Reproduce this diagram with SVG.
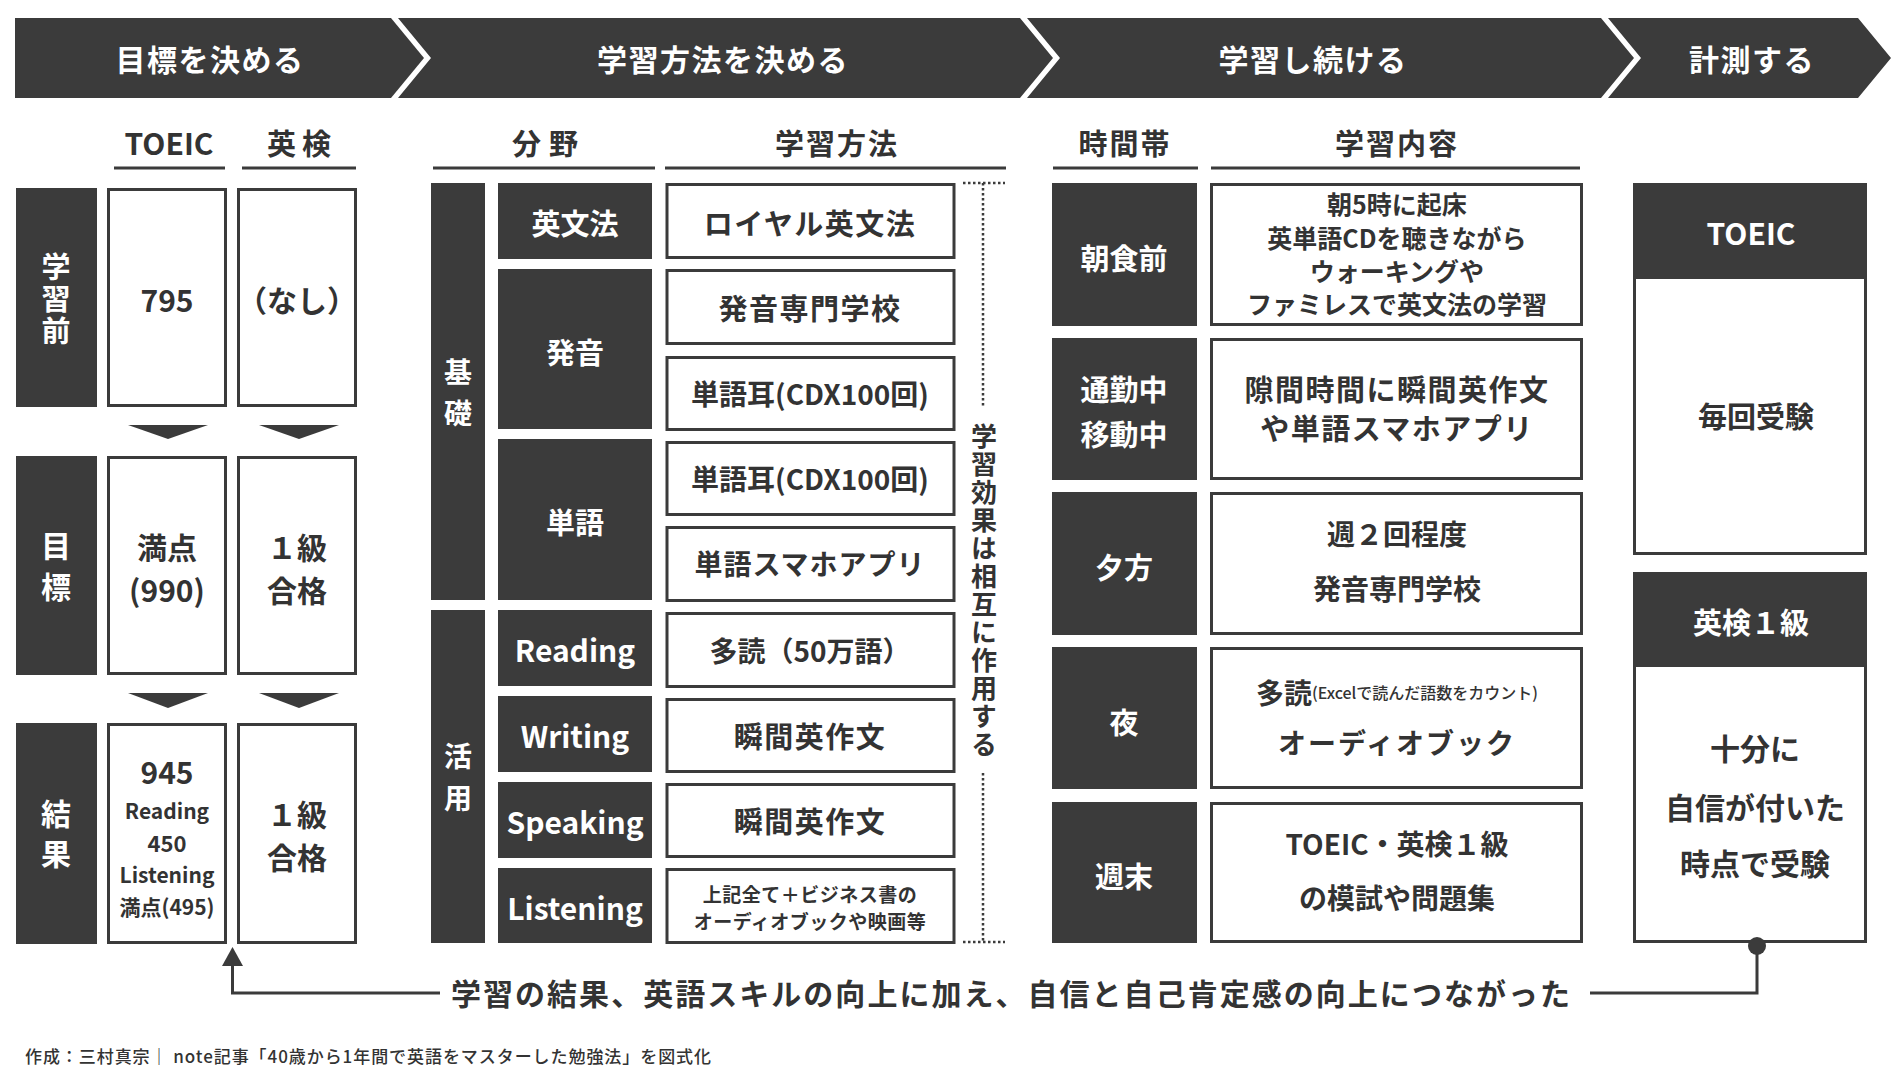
<svg xmlns="http://www.w3.org/2000/svg" width="1900" height="1072" viewBox="0 0 1900 1072">
<style>
.dk{fill:#3b3b3b}
.bx{fill:#fff;stroke:#3b3b3b;stroke-width:3}
.ln{fill:none;stroke:#3b3b3b;stroke-width:3}
.dot{fill:none;stroke:#3b3b3b;stroke-width:2.5;stroke-dasharray:2.5 2.5}
text{font-family:"Noto Sans CJK JP","Noto Sans",sans-serif;fill:#333;text-anchor:middle;dominant-baseline:central;font-weight:700}
.w{fill:#fff}
.m{font-weight:500}
.v{writing-mode:vertical-rl}
</style>
<rect width="1900" height="1072" fill="#fff"/>

<g id="banner">
<path class="dk" d="M15,18 L391,18 L424,58 L391,98 L15,98 Z"/>
<path class="dk" d="M398,18 L1020,18 L1053,58 L1020,98 L398,98 L431,58 Z"/>
<path class="dk" d="M1027,18 L1601,18 L1634,58 L1601,98 L1027,98 L1060,58 Z"/>
<path class="dk" d="M1608,18 L1858,18 L1891,58 L1858,98 L1608,98 L1641,58 Z"/>
<text class="w" x="210" y="58" font-size="30" letter-spacing="1.5">目標を決める</text>
<text class="w" x="723" y="58" font-size="30" letter-spacing="1.5">学習方法を決める</text>
<text class="w" x="1313" y="58" font-size="30" letter-spacing="1.5">学習し続ける</text>
<text class="w" x="1752" y="58" font-size="30" letter-spacing="1.5">計測する</text>
</g>

<g id="headers">
<text x="169" y="142" font-size="30">TOEIC</text>
<text x="302" y="142" font-size="29" letter-spacing="6">英検</text>
<text x="549" y="142" font-size="29" letter-spacing="8">分野</text>
<text x="837" y="142" font-size="29" letter-spacing="2">学習方法</text>
<text x="1125" y="142" font-size="29" letter-spacing="2">時間帯</text>
<text x="1397" y="142" font-size="29" letter-spacing="2">学習内容</text>
<path class="ln" d="M114,168 H225 M242,168 H356 M433,168 H655 M665,168 H1006 M1053,168 H1198 M1211,168 H1580"/>
</g>

<g id="row-before">
<rect class="dk" x="16" y="188" width="81" height="219"/>
<text class="w v" x="56" y="300" font-size="29" letter-spacing="3">学習前</text>
<rect class="bx" x="108.5" y="189.5" width="117" height="216"/>
<text x="167" y="299" font-size="30">795</text>
<rect class="bx" x="238.5" y="189.5" width="117" height="216"/>
<text x="297" y="299" font-size="30">（なし）</text>
</g>

<g id="row-goal">
<rect class="dk" x="16" y="456" width="81" height="219"/>
<text class="w v" x="56" y="572" font-size="30" letter-spacing="11">目標</text>
<rect class="bx" x="108.5" y="457.5" width="117" height="216"/>
<text font-size="30"><tspan x="167" y="546">満点</tspan><tspan x="167" y="589">(990)</tspan></text>
<rect class="bx" x="238.5" y="457.5" width="117" height="216"/>
<text font-size="30"><tspan x="297" y="546">１級</tspan><tspan x="297" y="589">合格</tspan></text>
</g>

<g id="row-result">
<rect class="dk" x="16" y="723" width="81" height="221"/>
<text class="w v" x="56" y="839" font-size="30" letter-spacing="10">結果</text>
<rect class="bx" x="108.5" y="724.5" width="117" height="218"/>
<text x="167" y="771" font-size="30">945</text>
<text x="167" y="810" font-size="21">Reading</text>
<text x="167" y="842" font-size="22">450</text>
<text x="167" y="874" font-size="21">Listening</text>
<text x="167" y="906" font-size="21">満点(495)</text>
<rect class="bx" x="238.5" y="724.5" width="117" height="218"/>
<text font-size="30"><tspan x="297" y="813">１級</tspan><tspan x="297" y="856">合格</tspan></text>
</g>

<g id="down-arrows">
<polygon class="dk" points="128,425 208,425 168,439"/>
<polygon class="dk" points="259,425 339,425 299,439"/>
<polygon class="dk" points="128,693 208,693 168,708"/>
<polygon class="dk" points="259,693 339,693 299,708"/>
</g>

<g id="kiso">
<rect class="dk" x="431" y="183" width="54" height="417"/>
<text class="w v" x="458" y="399" font-size="28" letter-spacing="13">基礎</text>
</g>
<g id="katsuyo">
<rect class="dk" x="431" y="610" width="54" height="333"/>
<text class="w v" x="458" y="784" font-size="28" letter-spacing="14">活用</text>
</g>

<g id="fields">
<rect class="dk" x="498" y="183" width="154" height="76"/>
<text class="w" x="575" y="222" font-size="29">英文法</text>
<rect class="dk" x="498" y="269" width="154" height="160"/>
<text class="w" x="575" y="351" font-size="29">発音</text>
<rect class="dk" x="498" y="439" width="154" height="161"/>
<text class="w" x="575" y="521" font-size="29">単語</text>
<rect class="dk" x="498" y="610" width="154" height="76"/>
<text class="w" x="575" y="649" font-size="30">Reading</text>
<rect class="dk" x="498" y="696" width="154" height="76"/>
<text class="w" x="575" y="735" font-size="30">Writing</text>
<rect class="dk" x="498" y="782" width="154" height="76"/>
<text class="w" x="575" y="821" font-size="30">Speaking</text>
<rect class="dk" x="498" y="868" width="154" height="75"/>
<text class="w" x="575" y="907" font-size="30">Listening</text>
</g>

<g id="methods">
<rect class="bx" x="667" y="184.5" width="287" height="73"/>
<text x="810" y="222" font-size="29" letter-spacing="1.5">ロイヤル英文法</text>
<rect class="bx" x="667" y="270.5" width="287" height="73"/>
<text x="810" y="307" font-size="29" letter-spacing="1.5">発音専門学校</text>
<rect class="bx" x="667" y="357.5" width="287" height="72"/>
<text x="810" y="393" font-size="28">単語耳(CDX100回)</text>
<rect class="bx" x="667" y="442.5" width="287" height="72"/>
<text x="810" y="478" font-size="28">単語耳(CDX100回)</text>
<rect class="bx" x="667" y="527.5" width="287" height="73"/>
<text x="810" y="563" font-size="28" letter-spacing="1">単語スマホアプリ</text>
<rect class="bx" x="667" y="613.5" width="287" height="73"/>
<text x="810" y="650" font-size="28">多読（50万語）</text>
<rect class="bx" x="667" y="699.5" width="287" height="72"/>
<text x="810" y="735" font-size="29" letter-spacing="1.5">瞬間英作文</text>
<rect class="bx" x="667" y="784.5" width="287" height="72"/>
<text x="810" y="820" font-size="29" letter-spacing="1.5">瞬間英作文</text>
<rect class="bx" x="667" y="869.5" width="287" height="73"/>
<text x="810" y="893" font-size="19" letter-spacing="0.5">上記全て＋ビジネス書の</text>
<text x="810" y="920" font-size="19" letter-spacing="0.5">オーディオブックや映画等</text>
</g>

<g id="mutual">
<path class="dot" d="M963,183 H1005 M983,183 V407 M983,773 V942 M963,942 H1005"/>
<text class="v" x="984" y="591" font-size="26" letter-spacing="2">学習効果は相互に作用する</text>
</g>

<g id="schedule">
<rect class="dk" x="1052" y="183" width="145" height="143"/>
<text class="w" x="1124" y="257" font-size="29">朝食前</text>
<rect class="bx" x="1211.5" y="184.5" width="370" height="140"/>
<text font-size="25"><tspan x="1397" y="203">朝5時に起床</tspan><tspan x="1397" y="237">英単語CDを聴きながら</tspan><tspan x="1397" y="270">ウォーキングや</tspan><tspan x="1397" y="303">ファミレスで英文法の学習</tspan></text>

<rect class="dk" x="1052" y="338" width="145" height="142"/>
<text class="w" font-size="29"><tspan x="1124" y="388">通勤中</tspan><tspan x="1124" y="433">移動中</tspan></text>
<rect class="bx" x="1211.5" y="339.5" width="370" height="139"/>
<text font-size="29" letter-spacing="1.5"><tspan x="1397" y="388">隙間時間に瞬間英作文</tspan><tspan x="1397" y="427">や単語スマホアプリ</tspan></text>

<rect class="dk" x="1052" y="492" width="145" height="143"/>
<text class="w" x="1124" y="566" font-size="29">夕方</text>
<rect class="bx" x="1211.5" y="493.5" width="370" height="140"/>
<text font-size="28"><tspan x="1397" y="533">週２回程度</tspan><tspan x="1397" y="588">発音専門学校</tspan></text>

<rect class="dk" x="1052" y="647" width="145" height="142"/>
<text class="w" x="1124" y="721" font-size="29">夜</text>
<rect class="bx" x="1211.5" y="648.5" width="370" height="139"/>
<text x="1397" y="692"><tspan font-size="28">多読</tspan><tspan font-size="16" class="m">(Excelで読んだ語数をカウント)</tspan></text>
<text x="1397" y="742" font-size="28" letter-spacing="2">オーディオブック</text>

<rect class="dk" x="1052" y="802" width="145" height="141"/>
<text class="w" x="1124" y="875" font-size="29">週末</text>
<rect class="bx" x="1211.5" y="803.5" width="370" height="138"/>
<text font-size="28"><tspan x="1397" y="843">TOEIC・英検１級</tspan><tspan x="1397" y="897">の模試や問題集</tspan></text>
</g>

<g id="measure-toeic">
<rect class="bx" x="1634.5" y="184.5" width="231" height="369"/>
<rect class="dk" x="1633" y="183" width="234" height="96"/>
<text class="w" x="1751" y="232" font-size="30">TOEIC</text>
<text x="1756" y="415" font-size="29">毎回受験</text>
</g>

<g id="measure-eiken">
<rect class="bx" x="1634.5" y="573.5" width="231" height="368"/>
<rect class="dk" x="1633" y="572" width="234" height="95"/>
<text class="w" x="1751" y="621" font-size="29">英検１級</text>
<text font-size="30"><tspan x="1755" y="747">十分に</tspan><tspan x="1755" y="806">自信が付いた</tspan><tspan x="1755" y="862">時点で受験</tspan></text>
</g>

<g id="connectors">
<path class="ln" d="M1590,993 H1757 V946"/>
<circle cx="1757" cy="946" r="9" fill="#3b3b3b"/>
<path class="ln" d="M440,993 H232.5 V964"/>
<polygon class="dk" points="222,966 243,966 232.5,947"/>
</g>

<text x="451" y="992" font-size="30" style="text-anchor:start" textLength="1119" lengthAdjust="spacing">学習の結果、英語スキルの向上に加え、自信と自己肯定感の向上につながった</text>

<text x="25" y="1055" font-size="17" style="text-anchor:start" class="m" textLength="686" lengthAdjust="spacing">作成：三村真宗｜ note記事「40歳から1年間で英語をマスターした勉強法」を図式化</text>
</svg>
